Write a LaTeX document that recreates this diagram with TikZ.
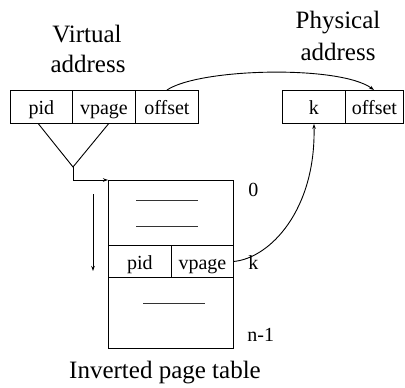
\documentclass[tikz,border=0pt]{standalone}
\usepackage{fontspec}
\setmainfont{Liberation Serif}
\usetikzlibrary{arrows.meta}
\begin{document}
\begin{tikzpicture}[x=1pt,y=-1pt,
  every path/.style={line width=0.9pt},
  cell/.style={draw, line width=0.9pt, inner sep=0pt, minimum height=33pt,
               text height=16pt, text depth=0pt,
               anchor=north west, font=\fontsize{20}{24}\selectfont},
  title/.style={anchor=base, inner sep=0pt, font=\fontsize{25}{30}\selectfont},
  lbl/.style={anchor=base west, inner sep=0pt, font=\fontsize{20}{24}\selectfont},
  arr/.style={-{Stealth[length=5pt,width=3.5pt]}},
  rule/.style={line width=0.8pt, black!80}
]
\useasboundingbox (0,0) rectangle (405,388);

% headings
\node[title] (vt1) at (87,42) {Virtual};
\node[title] (vt2) at (88,72) {address};
\node[title] (pt1) at (338,28) {Physical};
\node[title] (pt2) at (338,60) {address};

% virtual address fields
\node[cell, minimum width=62pt] (vpid)  at (10,90)  {pid};
\node[cell, minimum width=63pt] (vpg)   at (72,90)  {vpage};
\node[cell, minimum width=63pt] (voff)  at (135,90) {offset};

% physical address fields
\node[cell, minimum width=63pt] (pk)    at (282,90) {k};
\node[cell, minimum width=58pt] (poff)  at (345,90) {offset};

% inverted page table
\node[draw, line width=0.9pt, inner sep=0pt, minimum width=125pt, minimum height=168pt,
      anchor=north west] (table) at (108,180) {};
\node[cell, minimum width=63pt, minimum height=32pt] (tpid) at (108,245) {pid};
\node[cell, minimum width=62pt, minimum height=32pt] (tvpg) at (171,245) {vpage};

% placeholder entries
\draw[rule] (136,200) -- (198,200);
\draw[rule] (136,226) -- (198,226);
\draw[rule] (143,303) -- (205,303);

% row indices
\node[lbl] (i0) at (248,196) {0};
\node[lbl] (ik) at (248,269) {k};
\node[lbl] (in) at (247,341) {n-1};

\node[title] (caption) at (165,378) {Inverted page table};

% hashing pid and vpage into the table
\coordinate (apex) at (73,167);
\draw ([xshift=-3pt]vpid.south) -- (apex) -- ([xshift=4.5pt]vpg.south);
\draw[arr] (apex) |- (table.north west);

% search direction
\coordinate (scanA) at (93,194);
\coordinate (scanB) at (93,271);
\draw[arr] (scanA) -- (scanB);

% offset copied unchanged
\draw[arr] (voff.north) .. controls (200,68) and (340,65) .. ([xshift=-0.5pt]poff.north);

% matching entry index gives the frame number
\draw[arr] (tvpg.east) .. controls (270,258) and (316,210) .. (pk.south);
\end{tikzpicture}
\end{document}
